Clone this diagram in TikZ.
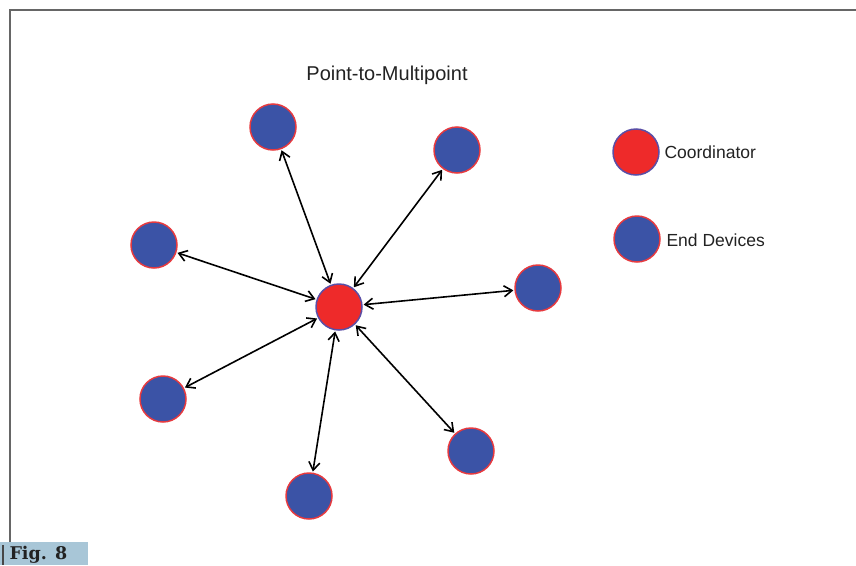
\documentclass[tikz,border=0pt]{standalone}
\usepackage{fontspec}
\setmainfont{Liberation Sans}
\newfontfamily\figfont{DejaVu Serif}
\usepackage{xcolor}
\definecolor{devblue}{HTML}{3B53A6}
\definecolor{devrim}{HTML}{E63A3F}
\definecolor{coordred}{HTML}{EE2A2A}
\definecolor{coordrim}{HTML}{5A4EA6}
\definecolor{framegray}{HTML}{666666}
\definecolor{figblue}{HTML}{A8C6D7}
\definecolor{inkdark}{HTML}{222222}
\usetikzlibrary{arrows.meta}

\begin{document}
\begin{tikzpicture}[x=1pt, y=-1pt,
  every node/.style={text=inkdark, font=\fontsize{17.5}{20}\selectfont},
  coordnode/.style={circle, fill=coordred, draw=coordrim, line width=1.5pt, minimum size=46pt, inner sep=0pt},
  enddev/.style={circle, fill=devblue, draw=devrim, line width=1.5pt, minimum size=46pt, inner sep=0pt},
  link/.style={{Straight Barb[length=8pt,width=11pt]}-{Straight Barb[length=8pt,width=11pt]},
    line width=1.6pt, shorten <=1pt, shorten >=1pt}]

  \useasboundingbox (0,0) rectangle (856,565);

  % Frame and figure tag
  \draw[framegray, line width=2.5pt] (856,10) -- (10,10) -- (10,542);
  \fill[figblue] (0,542) rectangle (88,565);
  \fill[framegray!70!black] (2,545) rectangle (4,565);
  \node[anchor=west, font=\figfont\bfseries\fontsize{17.5}{20}\selectfont] (figtag) at (6,555) {Fig. 8};

  \node[font=\fontsize{20}{24}\selectfont] (title) at (387,75) {Point-to-Multipoint};

  % Star network
  \node[coordnode] (hub) at (339,307) {};
  \foreach \name/\x/\y in {top/273/127, ur/457/150, ul/154/245, rt/538/288,
                           ll/163/399, bot/309/496, lr/471/451}
    \node[enddev] (\name) at (\x,\y) {};
  \foreach \name in {top, ur, ul, rt, ll, bot, lr}
    \draw[link] (hub) -- (\name);

  % Legend
  \node[coordnode] (keycoord) at (636,152) {};
  \node[anchor=west] (keycoordtxt) at (661,152) {Coordinator};
  \node[enddev] (keydev) at (637,239) {};
  \node[anchor=west] (keydevtxt) at (663,240) {End Devices};
\end{tikzpicture}
\end{document}
